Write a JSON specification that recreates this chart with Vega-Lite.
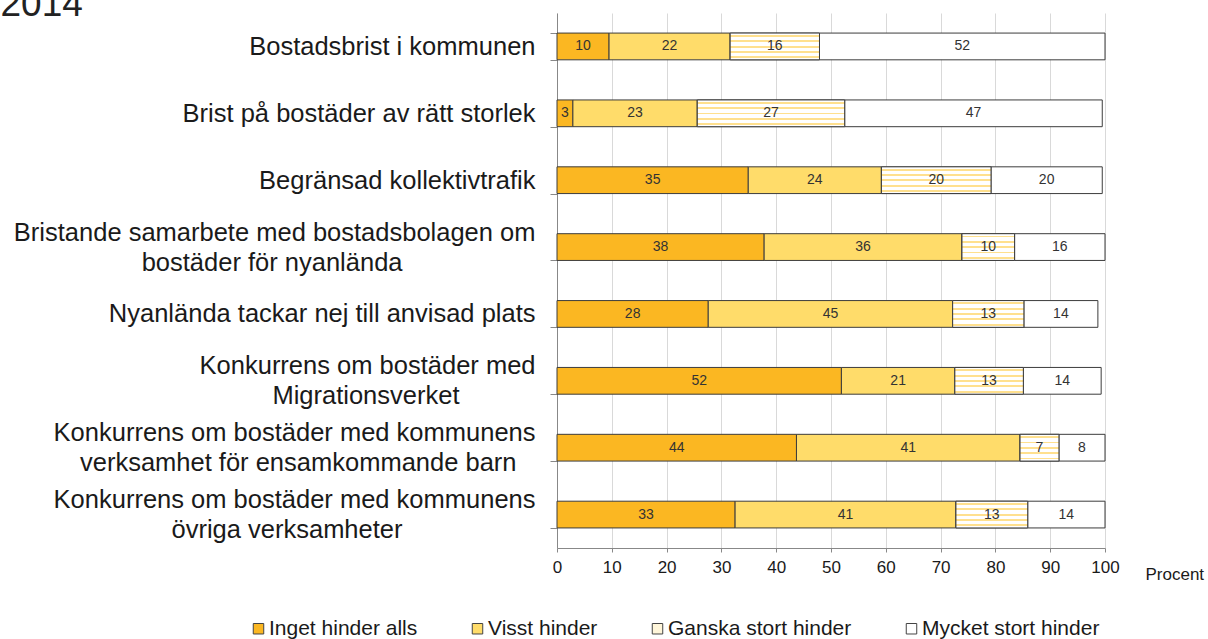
{
  "$schema": "https://vega.github.io/schema/vega-lite/v6.json",
  "width": 548,
  "height": 535,
  "autosize": {"type": "none"},
  "padding": {"left": 557, "top": 13, "right": 103, "bottom": 91},
  "background": "white",
  "config": {
    "view": {"stroke": null},
    "font": "Liberation Sans",
    "axis": {"labelFont": "Liberation Sans", "titleFont": "Liberation Sans"}
  },
  "data": {
    "values": [
      {"cat": "⠀|Bostadsbrist i kommunen", "seg": "Inget hinder alls", "so": 1, "value": 9.5, "label": "10"},
      {"cat": "⠀|Bostadsbrist i kommunen", "seg": "Visst hinder", "so": 2, "value": 22.1, "label": "22"},
      {"cat": "⠀|Bostadsbrist i kommunen", "seg": "Ganska stort hinder", "so": 3, "value": 16.3, "label": "16"},
      {"cat": "⠀|Bostadsbrist i kommunen", "seg": "Mycket stort hinder", "so": 4, "value": 52.1, "label": "52"},
      {"cat": "⠀|Brist på bostäder av rätt storlek", "seg": "Inget hinder alls", "so": 1, "value": 2.9, "label": "3"},
      {"cat": "⠀|Brist på bostäder av rätt storlek", "seg": "Visst hinder", "so": 2, "value": 22.7, "label": "23"},
      {"cat": "⠀|Brist på bostäder av rätt storlek", "seg": "Ganska stort hinder", "so": 3, "value": 26.9, "label": "27"},
      {"cat": "⠀|Brist på bostäder av rätt storlek", "seg": "Mycket stort hinder", "so": 4, "value": 47.0, "label": "47"},
      {"cat": "⠀|Begränsad kollektivtrafik", "seg": "Inget hinder alls", "so": 1, "value": 34.9, "label": "35"},
      {"cat": "⠀|Begränsad kollektivtrafik", "seg": "Visst hinder", "so": 2, "value": 24.3, "label": "24"},
      {"cat": "⠀|Begränsad kollektivtrafik", "seg": "Ganska stort hinder", "so": 3, "value": 20.0, "label": "20"},
      {"cat": "⠀|Begränsad kollektivtrafik", "seg": "Mycket stort hinder", "so": 4, "value": 20.3, "label": "20"},
      {"cat": "Bristande samarbete med bostadsbolagen om|⠀|bostäder för nyanlända⠀⠀⠀⠀⠀⠀⠀", "seg": "Inget hinder alls", "so": 1, "value": 37.8, "label": "38"},
      {"cat": "Bristande samarbete med bostadsbolagen om|⠀|bostäder för nyanlända⠀⠀⠀⠀⠀⠀⠀", "seg": "Visst hinder", "so": 2, "value": 36.1, "label": "36"},
      {"cat": "Bristande samarbete med bostadsbolagen om|⠀|bostäder för nyanlända⠀⠀⠀⠀⠀⠀⠀", "seg": "Ganska stort hinder", "so": 3, "value": 9.6, "label": "10"},
      {"cat": "Bristande samarbete med bostadsbolagen om|⠀|bostäder för nyanlända⠀⠀⠀⠀⠀⠀⠀", "seg": "Mycket stort hinder", "so": 4, "value": 16.5, "label": "16"},
      {"cat": "⠀|Nyanlända tackar nej till anvisad plats", "seg": "Inget hinder alls", "so": 1, "value": 27.6, "label": "28"},
      {"cat": "⠀|Nyanlända tackar nej till anvisad plats", "seg": "Visst hinder", "so": 2, "value": 44.6, "label": "45"},
      {"cat": "⠀|Nyanlända tackar nej till anvisad plats", "seg": "Ganska stort hinder", "so": 3, "value": 13.0, "label": "13"},
      {"cat": "⠀|Nyanlända tackar nej till anvisad plats", "seg": "Mycket stort hinder", "so": 4, "value": 13.5, "label": "14"},
      {"cat": "Konkurrens om bostäder med|⠀|Migrationsverket⠀⠀⠀⠀", "seg": "Inget hinder alls", "so": 1, "value": 51.9, "label": "52"},
      {"cat": "Konkurrens om bostäder med|⠀|Migrationsverket⠀⠀⠀⠀", "seg": "Visst hinder", "so": 2, "value": 20.7, "label": "21"},
      {"cat": "Konkurrens om bostäder med|⠀|Migrationsverket⠀⠀⠀⠀", "seg": "Ganska stort hinder", "so": 3, "value": 12.5, "label": "13"},
      {"cat": "Konkurrens om bostäder med|⠀|Migrationsverket⠀⠀⠀⠀", "seg": "Mycket stort hinder", "so": 4, "value": 14.2, "label": "14"},
      {"cat": "Konkurrens om bostäder med kommunens|⠀|verksamhet för ensamkommande barn⠀", "seg": "Inget hinder alls", "so": 1, "value": 43.7, "label": "44"},
      {"cat": "Konkurrens om bostäder med kommunens|⠀|verksamhet för ensamkommande barn⠀", "seg": "Visst hinder", "so": 2, "value": 40.8, "label": "41"},
      {"cat": "Konkurrens om bostäder med kommunens|⠀|verksamhet för ensamkommande barn⠀", "seg": "Ganska stort hinder", "so": 3, "value": 7.1, "label": "7"},
      {"cat": "Konkurrens om bostäder med kommunens|⠀|verksamhet för ensamkommande barn⠀", "seg": "Mycket stort hinder", "so": 4, "value": 8.4, "label": "8"},
      {"cat": "Konkurrens om bostäder med kommunens|⠀|övriga verksamheter⠀⠀⠀⠀⠀⠀⠀", "seg": "Inget hinder alls", "so": 1, "value": 32.5, "label": "33"},
      {"cat": "Konkurrens om bostäder med kommunens|⠀|övriga verksamheter⠀⠀⠀⠀⠀⠀⠀", "seg": "Visst hinder", "so": 2, "value": 40.3, "label": "41"},
      {"cat": "Konkurrens om bostäder med kommunens|⠀|övriga verksamheter⠀⠀⠀⠀⠀⠀⠀", "seg": "Ganska stort hinder", "so": 3, "value": 13.1, "label": "13"},
      {"cat": "Konkurrens om bostäder med kommunens|⠀|övriga verksamheter⠀⠀⠀⠀⠀⠀⠀", "seg": "Mycket stort hinder", "so": 4, "value": 14.1, "label": "14"}
    ]
  },
  "transform": [
    {"stack": "value", "groupby": ["cat"], "sort": [{"field": "so", "order": "ascending"}], "as": ["x0", "x1"]},
    {"calculate": "(datum.x0 + datum.x1) / 2", "as": "xm"}
  ],
  "encoding": {
    "y": {
      "field": "cat",
      "type": "nominal",
      "sort": null,
      "scale": {"paddingInner": 0.6, "paddingOuter": 0.3},
      "axis": {
        "title": "2014",
        "titleAngle": 0,
        "titleFontSize": 37,
        "titleFontWeight": "normal",
        "titleColor": "#222222",
        "titleAlign": "left",
        "titleBaseline": "alphabetic",
        "titleX": -557,
        "titleY": 2,
        "labelExpr": "split(datum.label, '|')",
        "labelFontSize": 25.5,
        "labelColor": "#1a1a1a",
        "labelLineHeight": 15,
        "labelOffset": -15,
        "labelPadding": 15,
        "labelLimit": 0,
        "labelAlign": "right",
        "tickBand": "extent",
        "tickSize": 7,
        "tickColor": "#888888",
        "domainColor": "#888888",
        "grid": false
      }
    }
  },
  "layer": [
    {
      "mark": {"type": "bar", "stroke": "#3c3c3c", "strokeWidth": 1},
      "encoding": {
        "x": {
          "field": "x0",
          "type": "quantitative",
          "scale": {"domain": [0, 100], "nice": false},
          "axis": {
            "title": "Procent",
            "values": [0, 10, 20, 30, 40, 50, 60, 70, 80, 90, 100],
            "labelFontSize": 17,
            "labelFlush": false,
            "labelColor": "#1a1a1a",
            "labelPadding": 7,
            "tickSize": 4,
            "tickColor": "#888888",
            "domainColor": "#888888",
            "grid": true,
            "gridColor": "#d9d9d9",
            "gridWidth": 1,
            "titleFontSize": 17,
            "titleFontWeight": "normal",
            "titleColor": "#1a1a1a",
            "titleAlign": "left",
            "titleBaseline": "alphabetic",
            "titleX": 588,
            "titleY": 31,
            "titleAnchor": "start"
          }
        },
        "x2": {"field": "x1"},
        "color": {
          "field": "seg",
          "type": "nominal",
          "scale": {
            "domain": ["Inget hinder alls", "Visst hinder", "Ganska stort hinder", "Mycket stort hinder"],
            "range": ["#FBB722", "#FFDC6A", "#FFF6DA", "#ffffff"]
          },
          "legend": {
            "title": null,
            "orient": "none",
            "direction": "horizontal",
            "columns": 4,
            "legendX": -309,
            "legendY": 605,
            "padding": 0,
            "columnPadding": 49,
            "symbolType": "square",
            "symbolSize": 110,
            "symbolStrokeColor": "#444444",
            "symbolStrokeWidth": 1,
            "symbolOpacity": 1,
            "labelFontSize": 21,
            "labelColor": "#1a1a1a",
            "labelOffset": 0,
            "labelLimit": 0
          }
        }
      }
    },
    {
      "transform": [{"filter": "datum.seg === 'Ganska stort hinder'"}],
      "mark": {
        "type": "bar",
        "stroke": "#3c3c3c",
        "strokeWidth": 1,
        "fill": {
          "gradient": "linear",
          "x1": 0, "y1": 0, "x2": 0, "y2": 1,
          "stops": [
            {"offset": 0, "color": "#ffffff"},
            {"offset": 0.07, "color": "#ffffff"},
            {"offset": 0.07, "color": "#FFE08E"},
            {"offset": 0.14, "color": "#FFE08E"},
            {"offset": 0.14, "color": "#ffffff"},
            {"offset": 0.27, "color": "#ffffff"},
            {"offset": 0.27, "color": "#FFE08E"},
            {"offset": 0.34, "color": "#FFE08E"},
            {"offset": 0.34, "color": "#ffffff"},
            {"offset": 0.47, "color": "#ffffff"},
            {"offset": 0.47, "color": "#FFE08E"},
            {"offset": 0.54, "color": "#FFE08E"},
            {"offset": 0.54, "color": "#ffffff"},
            {"offset": 0.67, "color": "#ffffff"},
            {"offset": 0.67, "color": "#FFE08E"},
            {"offset": 0.74, "color": "#FFE08E"},
            {"offset": 0.74, "color": "#ffffff"},
            {"offset": 0.87, "color": "#ffffff"},
            {"offset": 0.87, "color": "#FFE08E"},
            {"offset": 0.94, "color": "#FFE08E"},
            {"offset": 0.94, "color": "#ffffff"},
            {"offset": 1, "color": "#ffffff"}
          ]
        }
      },
      "encoding": {
        "x": {"field": "x0", "type": "quantitative"},
        "x2": {"field": "x1"}
      }
    },
    {
      "mark": {"type": "text", "fontSize": 14, "color": "#333333", "baseline": "middle", "align": "center"},
      "encoding": {
        "x": {"field": "xm", "type": "quantitative"},
        "text": {"field": "label"}
      }
    }
  ]
}
